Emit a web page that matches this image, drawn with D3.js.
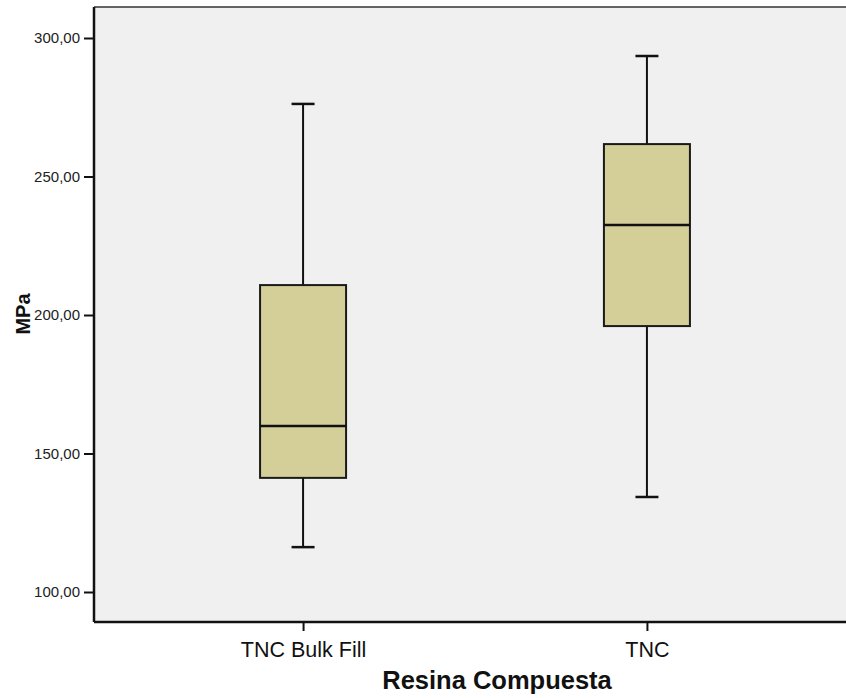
<!DOCTYPE html>
<html>
<head>
<meta charset="utf-8">
<script src="https://cdn.jsdelivr.net/npm/d3@7"></script>
<style>
  body { margin: 0; background: #fff; }
  svg { display: block; font-family: "Liberation Sans", Arial, sans-serif; }
</style>
</head>
<body>
<svg id="chart" width="846" height="698"></svg>
<script>
// datos (MPa)
const categories = ['TNC Bulk Fill', 'TNC'];
const minVals = [116.2, 134.3];
const q1Vals = [141.2, 196.0];
const medianVals = [159.9, 232.5];
const q3Vals = [210.8, 261.7];
const maxVals = [276.2, 293.5];
const yTicks = [100, 150, 200, 250, 300];

const width = 846, height = 698;
const plot = {left: 94, top: 7, right: 856, bottom: 622};

const svg = d3.select('#chart');

const x = d3.scalePoint().domain(categories).range([plot.left, plot.right]).padding(0.608);
const y = d3.scaleLinear().domain([100, 300]).range([592, 38]);

const boxW = 86, capW = 23;
const fmt = d => d3.format('.2f')(d).replace('.', ',');

// fondo del área
svg.append('rect')
    .attr('x', plot.left).attr('y', plot.top)
    .attr('width', plot.right - plot.left).attr('height', plot.bottom - plot.top)
    .attr('fill', '#f0f0f0');

const boxes = categories.map((c, i) => ({
    key: c, min: minVals[i], q1: q1Vals[i], med: medianVals[i], q3: q3Vals[i], max: maxVals[i]
}));

const g = svg.append('g');
const box = g.selectAll('.box').data(boxes).enter().append('g').attr('class', 'box');

// bigotes
box.append('line')
    .attr('x1', d => x(d.key)).attr('x2', d => x(d.key))
    .attr('y1', d => y(d.max)).attr('y2', d => y(d.q3))
    .attr('stroke', '#111').attr('stroke-width', 2);
box.append('line')
    .attr('x1', d => x(d.key)).attr('x2', d => x(d.key))
    .attr('y1', d => y(d.q1)).attr('y2', d => y(d.min))
    .attr('stroke', '#111').attr('stroke-width', 2);
box.append('line')
    .attr('x1', d => x(d.key) - capW / 2).attr('x2', d => x(d.key) + capW / 2)
    .attr('y1', d => y(d.max)).attr('y2', d => y(d.max))
    .attr('stroke', '#111').attr('stroke-width', 2.5);
box.append('line')
    .attr('x1', d => x(d.key) - capW / 2).attr('x2', d => x(d.key) + capW / 2)
    .attr('y1', d => y(d.min)).attr('y2', d => y(d.min))
    .attr('stroke', '#111').attr('stroke-width', 2.5);

// caja
box.append('rect')
    .attr('x', d => x(d.key) - boxW / 2)
    .attr('y', d => y(d.q3))
    .attr('width', boxW)
    .attr('height', d => y(d.q1) - y(d.q3))
    .attr('fill', '#d4cf98')
    .attr('stroke', '#1a1a1a').attr('stroke-width', 2);

// mediana
box.append('line')
    .attr('x1', d => x(d.key) - boxW / 2).attr('x2', d => x(d.key) + boxW / 2)
    .attr('y1', d => y(d.med)).attr('y2', d => y(d.med))
    .attr('stroke', '#111').attr('stroke-width', 2.5);

// eje Y
const yAxis = svg.append('g')
    .attr('transform', `translate(${plot.left},0)`)
    .call(d3.axisLeft(y).tickValues(yTicks).tickFormat(fmt).tickSize(10).tickPadding(4));
yAxis.select('.domain').remove();
yAxis.selectAll('.tick line').attr('stroke', '#111').attr('stroke-width', 2);
yAxis.selectAll('.tick text')
    .attr('font-size', 15).attr('fill', '#222')
    .attr('font-family', '"Liberation Sans", Arial, sans-serif');

// eje X
const xAxis = svg.append('g')
    .attr('transform', `translate(0,${plot.bottom})`)
    .call(d3.axisBottom(x).tickSize(9).tickPadding(8));
xAxis.select('.domain').remove();
xAxis.selectAll('.tick line').attr('stroke', '#111').attr('stroke-width', 2);
xAxis.selectAll('.tick text')
    .attr('y', 35).attr('dy', 0)
    .attr('font-size', 21.5).attr('fill', '#111')
    .attr('font-family', '"Liberation Sans", Arial, sans-serif');

// bordes del área
svg.append('line')
    .attr('x1', plot.left).attr('x2', width).attr('y1', plot.top).attr('y2', plot.top)
    .attr('stroke', '#333').attr('stroke-width', 1.5);
svg.append('line')
    .attr('x1', plot.left).attr('x2', plot.left).attr('y1', plot.top).attr('y2', plot.bottom)
    .attr('stroke', '#111').attr('stroke-width', 2.5);
svg.append('line')
    .attr('x1', plot.left).attr('x2', width).attr('y1', plot.bottom).attr('y2', plot.bottom)
    .attr('stroke', '#111').attr('stroke-width', 2.5);

// títulos
svg.append('text')
    .attr('x', 497).attr('y', 689)
    .attr('text-anchor', 'middle')
    .attr('font-size', 25.5).attr('font-weight', 'bold').attr('fill', '#111')
    .text('Resina Compuesta');

svg.append('text')
    .attr('transform', 'translate(30,314) rotate(-90)')
    .attr('text-anchor', 'middle')
    .attr('font-size', 20).attr('font-weight', 'bold').attr('fill', '#111')
    .text('MPa');
</script>
</body>
</html>
